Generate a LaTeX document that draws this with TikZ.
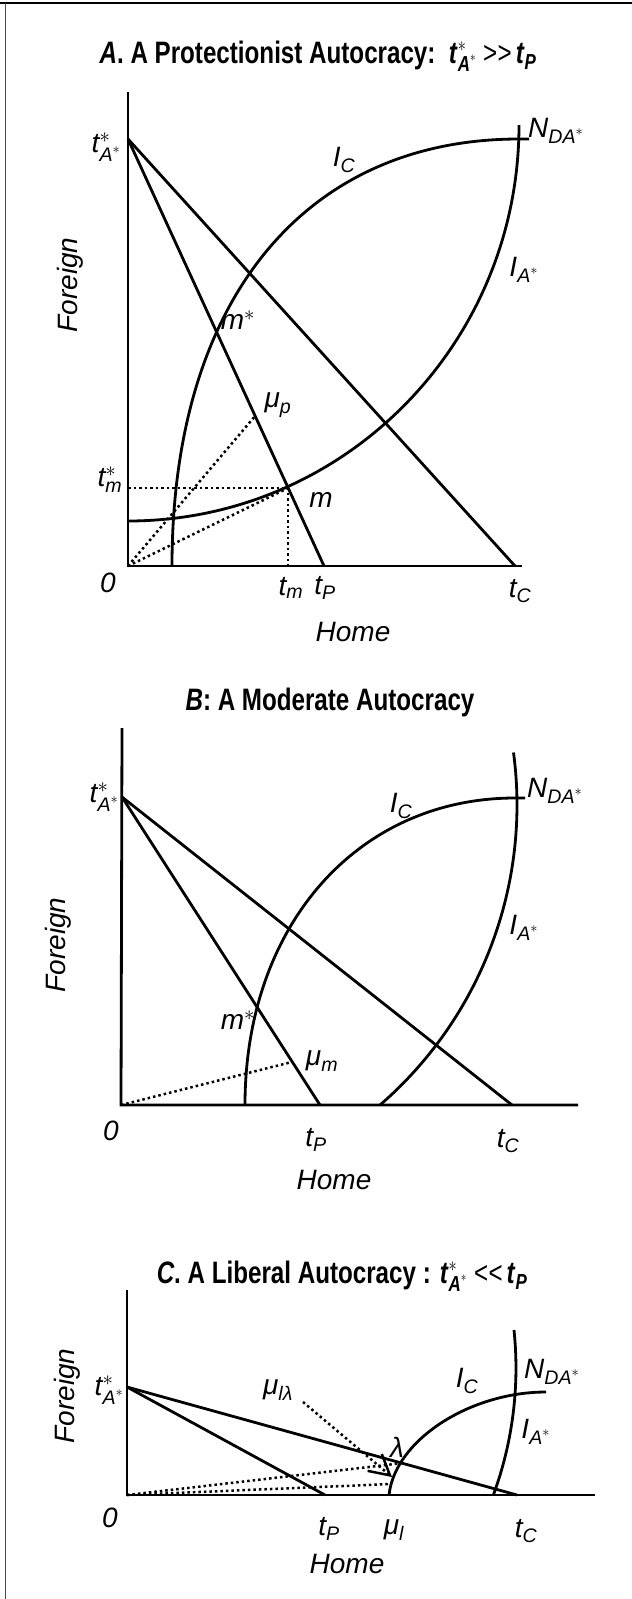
\documentclass[tikz,border=0pt]{standalone}
\usepackage{amsmath}
\usepackage{fontspec}
\setmainfont{Liberation Sans}
\usepackage{tikz}
\usetikzlibrary{arrows.meta,calc}
\tikzset{
  axisline/.style={line width=2.8pt},
  curveline/.style={line width=2.8pt},
  guide/.style={line width=2.5pt, dash pattern=on 2.5pt off 3pt},
  lbl/.style={font=\fontsize{28}{31}\selectfont\itshape, inner sep=0pt},
  ttl/.style={font=\fontsize{31}{35}\selectfont\bfseries, inner sep=0pt}
}
\newcommand{\tv}[1]{\textit{#1}}
\newcommand{\tstar}{$\tv{t}^{*}_{\tv{A}^{*}}$}
\newcommand{\tbf}[1]{\textbf{\textit{#1}}}
\newcommand{\narrow}[1]{\scalebox{0.78}[1]{#1}}

\begin{document}
\begin{tikzpicture}[x=1pt, y=-1pt]
  \useasboundingbox (0,0) rectangle (632,1599);
  % scan frame
  \draw[line width=2.5pt] (0,3) -- (632,3);
  \draw[line width=1pt, black!70] (5,3) -- (5,1599);

  % ---------- A: protectionist ----------
  \node[ttl] (titleA) at (318,56) {\narrow{\textit{A}. A Protectionist Autocracy:\ \ $\tbf{t}^{*}_{\tv{A}^{*}}$ \textmd{>\kern0.5pt>}\,$\tbf{t}_{\tv{P}}$}};
  \coordinate (oA) at (128,566);
  \coordinate (tsA) at (128,139);
  \coordinate (tpA) at (324,566);
  \coordinate (tcA) at (515,566);
  \coordinate (mA) at ($(tsA)!0.8173!(tpA)$);
  \coordinate (muA) at ($(tsA)!0.6487!(tpA)$);
  \coordinate (tmA) at (mA |- oA);
  \coordinate (tmsA) at (mA -| oA);
  \draw[axisline] (128,92) -- (oA) -- (522,566);
  \draw[curveline] (tsA) -- (tpA);
  \draw[curveline] (tsA) -- (tcA);
  \draw[curveline] (128,521) .. controls (344,521) and (519,344) .. (519,125);
  \draw[curveline] (172,566) .. controls (172,301) and (304,139) .. (519,139) -- (529,139);
  \draw[guide] (oA) -- (muA);
  \draw[guide] (oA) -- (mA);
  \draw[guide] (tmsA) -- (mA) -- (tmA);
  \node[lbl, anchor=east] (lTsA) at (121,147) {\tstar};
  \node[lbl, anchor=west] (lNA) at (528,131) {$\tv{N}_{\tv{DA}^{*}}$};
  \node[lbl] (lIcA) at (344,160) {$\tv{I}_{\tv{C}}$};
  \node[lbl] (lIaA) at (524,270) {$\tv{I}_{\tv{A}^{*}}$};
  \node[lbl] (lmsA) at (238,320) {$\tv{m}^{*}$};
  \node[lbl] (lmuA) at (278,405) {$\tv{μ}_{\tv{p}}$};
  \node[lbl] (ltmsA) at (110,480) {$\tv{t}^{*}_{\tv{m}}$};
  \node[lbl] (lmA) at (321,500) {m};
  \node[lbl] (l0A) at (108,583) {0};
  \node[lbl] (ltmA) at (291,588) {$\tv{t}_{\tv{m}}$};
  \node[lbl] (ltpA) at (325,588) {$\tv{t}_{\tv{P}}$};
  \node[lbl] (ltcA) at (520,591) {$\tv{t}_{\tv{C}}$};
  \node[lbl] (homeA) at (353,632) {Home};
  \node[lbl, rotate=90] (forA) at (70,285) {Foreign};

  % ---------- B: moderate ----------
  \node[ttl] (titleB) at (330,702) {\narrow{\textit{B}: A Moderate Autocracy}};
  \coordinate (oB) at (121,1105);
  \coordinate (tsB) at (122,797);
  \coordinate (tpB) at (320,1105);
  \coordinate (tcB) at (512,1105);
  \coordinate (muB) at ($(tsB)!0.86!(tpB)$);
  \draw[axisline] (122,728) -- (oB) -- (578,1105);
  \draw[curveline] (tsB) -- (tpB);
  \draw[curveline] (tsB) -- (tcB);
  \draw[curveline] (245,1105) .. controls (245,925) and (358,798) .. (515,798) -- (525,798);
  \draw[curveline] (513.5,752.5) arc[start angle=-7.6, end angle=49.09, radius=397];
  \draw[guide] (oB) -- (muB);
  \node[lbl, anchor=east] (lTsB) at (119,797) {\tstar};
  \node[lbl, anchor=west] (lNB) at (527,791) {$\tv{N}_{\tv{DA}^{*}}$};
  \node[lbl] (lIcB) at (401,806) {$\tv{I}_{\tv{C}}$};
  \node[lbl] (lIaB) at (524,928) {$\tv{I}_{\tv{A}^{*}}$};
  \node[lbl] (lmsB) at (238,1020) {$\tv{m}^{*}$};
  \node[lbl] (lmuB) at (322,1061) {$\tv{μ}_{\tv{m}}$};
  \node[lbl] (l0B) at (111,1131) {0};
  \node[lbl] (ltpB) at (316,1140) {$\tv{t}_{\tv{P}}$};
  \node[lbl] (ltcB) at (508,1141) {$\tv{t}_{\tv{C}}$};
  \node[lbl] (homeB) at (334,1180) {Home};
  \node[lbl, rotate=90] (forB) at (58,945) {Foreign};

  % ---------- C: liberal ----------
  \node[ttl] (titleC) at (342,1276) {\narrow{\textit{C}. A Liberal Autocracy : $\tbf{t}^{*}_{\tv{A}^{*}}$ \textmd{<\kern0.5pt<}\,$\tbf{t}_{\tv{P}}$}};
  \coordinate (oC) at (127,1495);
  \coordinate (tsC) at (127,1387);
  \coordinate (tpC) at (325,1495);
  \coordinate (tcC) at (517,1495);
  \coordinate (lamC) at ($(tsC)!0.705!(tcC)$);
  \coordinate (icC) at (391,1484);
  \coordinate (arrC) at (303,1402);
  \coordinate (tipC) at (392,1477);
  \draw[axisline] (127,1290) -- (oC) -- (595,1495);
  \draw[curveline] (tsC) -- (tpC);
  \draw[curveline] (tsC) -- (tcC);
  \draw[curveline] (389,1495) .. controls (395,1440) and (470,1392) .. (546,1392);
  \draw[curveline] (514,1330) arc[start angle=-5.93, end angle=20.19, radius=368];
  \draw[guide] (oC) -- (lamC);
  \draw[guide] (oC) -- (icC);
  \draw[guide, -{Straight Barb[length=20pt, width=22pt]}] (arrC) -- (tipC);
  \node[lbl, anchor=east] (lTsC) at (124,1390) {\tstar};
  \node[lbl] (lmulC) at (278,1390) {$\tv{μ}_{\tv{lλ}}$};
  \node[lbl] (lIcC) at (467,1381) {$\tv{I}_{\tv{C}}$};
  \node[lbl, anchor=west] (lNC) at (524,1372) {$\tv{N}_{\tv{DA}^{*}}$};
  \node[lbl] (lIaC) at (536,1432) {$\tv{I}_{\tv{A}^{*}}$};
  \node[lbl] (llamC) at (397,1447) {λ};
  \node[lbl] (l0C) at (110,1518) {0};
  \node[lbl] (ltpC) at (329,1529) {$\tv{t}_{\tv{P}}$};
  \node[lbl] (lmuC) at (394,1530) {$\tv{μ}_{\tv{l}}$};
  \node[lbl] (ltcC) at (526,1531) {$\tv{t}_{\tv{C}}$};
  \node[lbl] (homeC) at (347,1564) {Home};
  \node[lbl, rotate=90] (forC) at (67,1396) {Foreign};
\end{tikzpicture}
\end{document}
